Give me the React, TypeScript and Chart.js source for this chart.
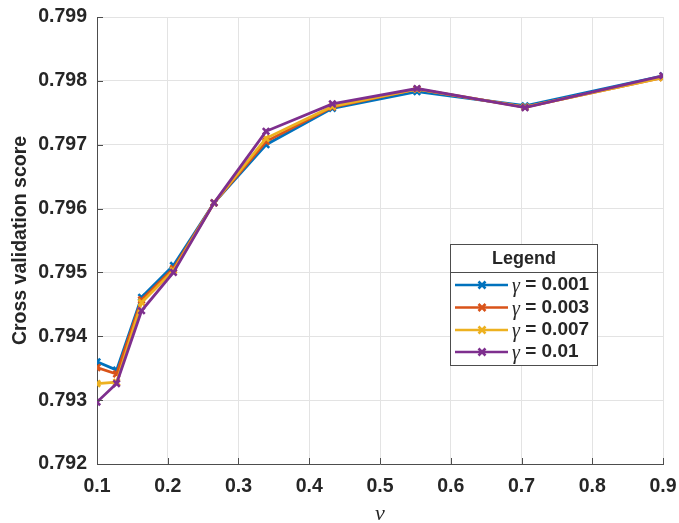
import React, { useEffect, useRef } from "react";
import { Chart, registerables } from "chart.js";

Chart.register(...registerables);

const nuValues = [0.1, 0.1277, 0.163, 0.208, 0.2655, 0.3389, 0.4327, 0.5523, 0.705, 0.9];
const gamma001 = [0.7936, 0.79347, 0.79461, 0.79511, 0.79609, 0.797, 0.79757, 0.79783, 0.79761, 0.79808];
const gamma003 = [0.79351, 0.79341, 0.79457, 0.79506, 0.79609, 0.79705, 0.79759, 0.79787, 0.79759, 0.79805];
const gamma007 = [0.79326, 0.79328, 0.79453, 0.79503, 0.79609, 0.7971, 0.7976, 0.79787, 0.79759, 0.79805];
const gamma01 = [0.79297, 0.79326, 0.7944, 0.795, 0.79609, 0.79721, 0.79764, 0.79788, 0.79758, 0.79808];
const seriesLabels = ["0.001", "0.003", "0.007", "0.01"];
const seriesColors = ["#0072BD", "#D95319", "#EDB120", "#7E2F8E"];
const xTickValues = [0.1, 0.2, 0.3, 0.4, 0.5, 0.6, 0.7, 0.8, 0.9];
const yTickValues = [0.792, 0.793, 0.794, 0.795, 0.796, 0.797, 0.798, 0.799];

const FONT = "'Liberation Sans', Arial, Helvetica, sans-serif";
const TEXT = "#262626";
const AXIS = "#4d4d4d";

export default function App() {
  const ref = useRef<HTMLCanvasElement | null>(null);

  useEffect(() => {
    if (!ref.current) return;
    const all = [gamma001, gamma003, gamma007, gamma01];
    const datasets = all.map((vals, i) => ({
      label: seriesLabels[i],
      data: vals.map((v, j) => ({ x: nuValues[j], y: v })),
      borderColor: seriesColors[i],
      backgroundColor: seriesColors[i],
      borderWidth: 2.8,
      pointStyle: "crossRot" as const,
      pointRadius: 4.5,
      pointBorderWidth: 2.6,
      pointHoverRadius: 4.5,
      tension: 0,
      order: 4 - i,
    }));

    const innerTicks = {
      id: "innerTicks",
      afterDatasetsDraw(chart: any) {
        const { ctx, chartArea, scales } = chart;
        ctx.save();
        ctx.strokeStyle = AXIS;
        ctx.lineWidth = 1;
        const L = 6;
        xTickValues.forEach((v) => {
          const x = Math.round(scales.x.getPixelForValue(v)) + 0.5;
          ctx.beginPath();
          ctx.moveTo(x, chartArea.bottom);
          ctx.lineTo(x, chartArea.bottom - L);
          ctx.stroke();
        });
        yTickValues.forEach((v) => {
          const y = Math.round(scales.y.getPixelForValue(v)) + 0.5;
          ctx.beginPath();
          ctx.moveTo(chartArea.left, y);
          ctx.lineTo(chartArea.left + L, y);
          ctx.stroke();
        });
        ctx.restore();
      },
    };

    const boxLegend = {
      id: "boxLegend",
      afterDraw(chart: any) {
        const { ctx } = chart;
        const left = 450.5, top = 244.5, right = 597.5, bottom = 365.5;
        ctx.save();
        ctx.fillStyle = "#ffffff";
        ctx.fillRect(left, top, right - left, bottom - top);
        ctx.strokeStyle = AXIS;
        ctx.lineWidth = 1;
        ctx.strokeRect(left, top, right - left, bottom - top);
        ctx.beginPath();
        ctx.moveTo(left, 272.5);
        ctx.lineTo(right, 272.5);
        ctx.stroke();
        ctx.fillStyle = TEXT;
        ctx.font = `bold 18px ${FONT}`;
        ctx.textAlign = "center";
        ctx.textBaseline = "middle";
        ctx.fillText("Legend", (left + right) / 2, 259);
        const rows = [285, 307.5, 330, 352];
        chart.data.datasets.forEach((ds: any, i: number) => {
          const y = rows[i];
          ctx.strokeStyle = ds.borderColor;
          ctx.lineWidth = 2.6;
          ctx.beginPath();
          ctx.moveTo(455, y);
          ctx.lineTo(508, y);
          ctx.stroke();
          const mx = 482, r = 3.5;
          ctx.beginPath();
          ctx.moveTo(mx - r, y - r);
          ctx.lineTo(mx + r, y + r);
          ctx.moveTo(mx - r, y + r);
          ctx.lineTo(mx + r, y - r);
          ctx.stroke();
          ctx.fillStyle = TEXT;
          ctx.textAlign = "left";
          ctx.font = `italic 20px 'Liberation Serif', 'DejaVu Serif', serif`;
          ctx.fillText("γ", 512, y + 2);
          const gw = ctx.measureText("γ").width;
          ctx.font = `bold 19px ${FONT}`;
          ctx.fillText(" = " + ds.label, 512 + gw, y);
        });
        ctx.restore();
      },
    };

    const chart = new Chart(ref.current, {
      type: "line",
      data: { datasets },
      options: {
        animation: false,
        responsive: true,
        maintainAspectRatio: false,
        layout: { padding: { top: 17, right: 16, left: 0, bottom: 0 } },
        plugins: {
          legend: { display: false },
          tooltip: { enabled: false },
        },
        scales: {
          x: {
            type: "linear",
            min: 0.1,
            max: 0.9,
            afterFit: (s: any) => { s.height = 59; s.paddingLeft = 0; s.paddingRight = 0; },
            afterBuildTicks: (s: any) => { s.ticks = xTickValues.map((v) => ({ value: v })); },
            ticks: {
              color: TEXT,
              font: { family: FONT, size: 19.5, weight: "bold" },
              padding: 11,
              maxRotation: 0,
              autoSkip: false,
              callback: (v: any) => Number(v).toFixed(1),
            },
            grid: { color: "#e3e3e3", drawTicks: false, lineWidth: 1 },
            border: { display: true, color: AXIS, width: 1 },
            title: {
              display: true,
              text: "ν",
              color: TEXT,
              font: { family: "'Liberation Serif', 'DejaVu Serif', serif", size: 22, style: "italic" },
              padding: { top: 0, bottom: -4 },
            },
          },
          y: {
            type: "linear",
            min: 0.792,
            max: 0.799,
            afterFit: (s: any) => { s.width = 97; s.paddingTop = 0; s.paddingBottom = 0; },
            afterBuildTicks: (s: any) => { s.ticks = yTickValues.map((v) => ({ value: v })); },
            ticks: {
              color: TEXT,
              font: { family: FONT, size: 19.5, weight: "bold" },
              padding: 10,
              autoSkip: false,
              callback: (v: any) => Number(v).toFixed(3),
            },
            grid: { color: "#e3e3e3", drawTicks: false, lineWidth: 1 },
            border: { display: true, color: AXIS, width: 1 },
            title: {
              display: true,
              text: "Cross validation score",
              color: TEXT,
              font: { family: FONT, size: 19.5, weight: "bold" },
              padding: { top: 9, bottom: 0 },
            },
          },
        },
      },
      plugins: [innerTicks, boxLegend],
    });
    return () => chart.destroy();
  }, []);

  return (
    <div style={{ position: "absolute", left: 0, top: 0, width: 679, height: 523, background: "#fff" }}>
      <canvas ref={ref} />
    </div>
  );
}
